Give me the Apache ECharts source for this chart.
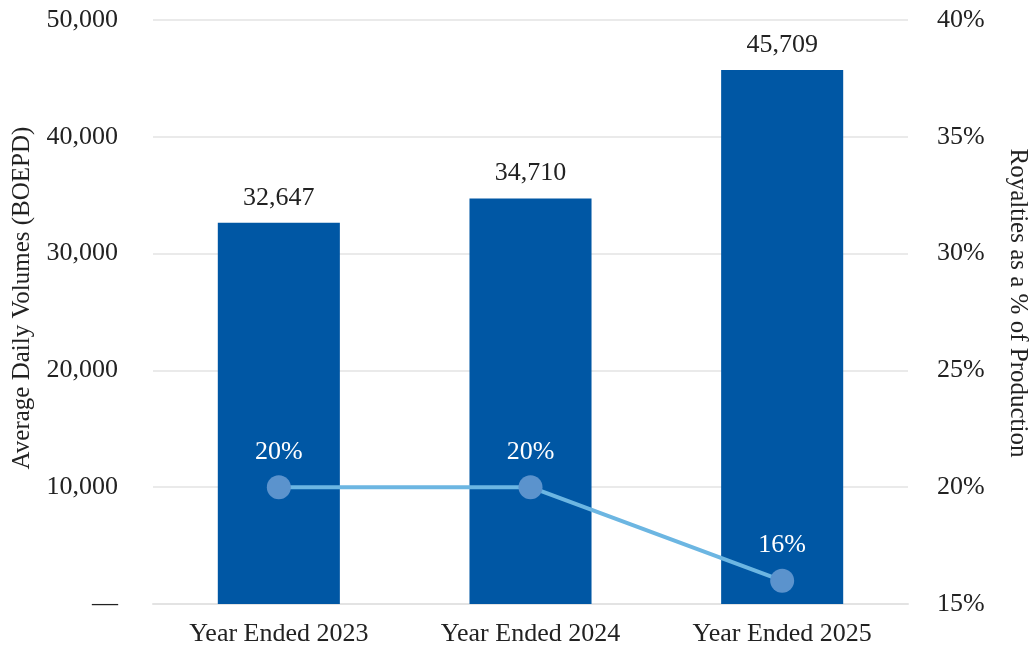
<!DOCTYPE html>
<html>
<head>
<meta charset="utf-8">
<script src="https://cdn.jsdelivr.net/npm/echarts@6/dist/echarts.min.js"></script>
<style>
  html, body { margin: 0; padding: 0; background: #fff; }
  #chart { width: 1031px; height: 651px; }
</style>
</head>
<body>
<div id="chart"></div>
<script>
const categories = ['Year Ended 2023', 'Year Ended 2024', 'Year Ended 2025'];
const volumes = [32647, 34710, 45709];
const royaltyPct = [20, 20, 16];

const chart = echarts.init(document.getElementById('chart'));
const font = 'Liberation Serif';

const option = {
  animation: false,
  textStyle: { fontFamily: font },
  grid: { left: 153, right: 123, top: 20, bottom: 47, outerBoundsMode: 'none' },
  xAxis: {
    type: 'category',
    data: categories,
    axisLine: { show: true, lineStyle: { color: '#e3e3e3', width: 2 } },
    axisTick: { show: false },
    axisLabel: { color: '#222', fontSize: 26, fontFamily: font, margin: 17 }
  },
  yAxis: [
    {
      type: 'value',
      min: 0,
      max: 50000,
      interval: 10000,
      name: 'Average Daily Volumes (BOEPD)',
      nameLocation: 'middle',
      nameGap: 118,
      nameTextStyle: { color: '#222', fontSize: 25, fontFamily: font, padding: [0, 0, 0, 28] },
      axisLine: { show: false },
      axisTick: { show: false },
      splitLine: { lineStyle: { color: '#e3e3e3', width: 1.5 } },
      axisLabel: {
        color: '#222', fontSize: 26, fontFamily: font, margin: 35,
        formatter: function (v) { return v === 0 ? '—' : v.toLocaleString('en-US'); }
      }
    },
    {
      type: 'value',
      min: 15,
      max: 40,
      interval: 5,
      position: 'right',
      name: 'Royalties as a % of Production',
      nameLocation: 'middle',
      nameGap: 97,
      nameRotate: -90,
      nameTextStyle: { color: '#222', fontSize: 25, fontFamily: font, padding: [0, 18, 0, 0] },
      axisLine: { show: false },
      axisTick: { show: false },
      splitLine: { show: false },
      axisLabel: {
        color: '#222', fontSize: 26, fontFamily: font, margin: 29,
        formatter: '{value}%'
      }
    }
  ],
  series: [
    {
      type: 'bar',
      data: volumes,
      yAxisIndex: 0,
      barWidth: '48.5%',
      itemStyle: { color: '#0057A4' },
      label: {
        show: true,
        position: 'top',
        distance: 12,
        color: '#222',
        fontSize: 26,
        fontFamily: font,
        formatter: function (p) { return p.value.toLocaleString('en-US'); }
      }
    },
    {
      type: 'line',
      data: royaltyPct,
      yAxisIndex: 1,
      symbol: 'circle',
      symbolSize: 24,
      lineStyle: { color: '#6CB6E2', width: 4 },
      itemStyle: { color: '#5B93CD' },
      label: {
        show: true,
        position: 'top',
        distance: 10,
        color: '#fff',
        fontSize: 26,
        fontFamily: font,
        formatter: '{c}%'
      },
      z: 5
    }
  ]
};

chart.setOption(option);
</script>
</body>
</html>
